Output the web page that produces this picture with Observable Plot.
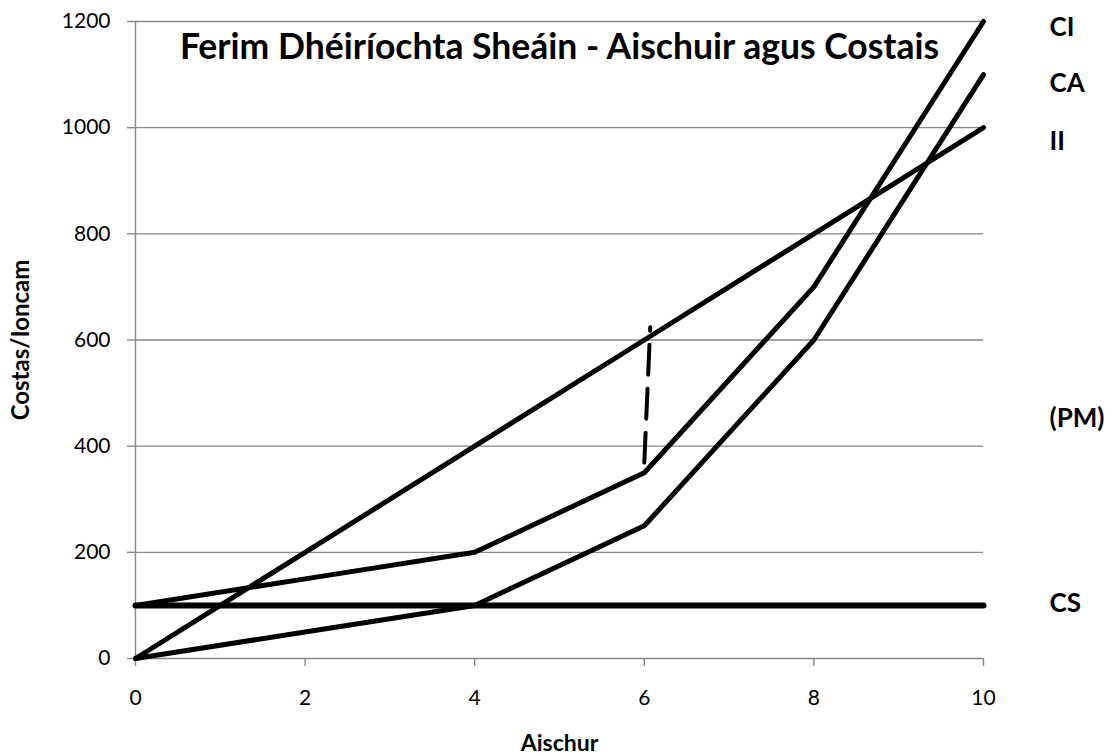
<!DOCTYPE html>
<html><head><meta charset="utf-8">
<script src="https://cdn.jsdelivr.net/npm/d3@7"></script>
<script src="https://cdn.jsdelivr.net/npm/@observablehq/plot@0.6"></script>
<style>body{margin:0;background:#fff;} svg{font-family:Lato,"Open Sans",sans-serif;}</style>
</head><body><div id="chart"></div>
<script>
const aischur = [0, 2, 4, 6, 8, 10];
const costasIomlan = [100, 150, 200, 350, 700, 1200];   // CI
const costasAthraitheacha = [0, 50, 100, 250, 600, 1100]; // CA
const ioncamIomlan = [0, 200, 400, 600, 800, 1000];     // II
const costasSeasta = [100, 100, 100, 100, 100, 100];    // CS
const pmX = [6.0, 6.07];
const pmY = [369, 624];
const labelNames = ["CI", "CA", "II", "(PM)", "CS"];
const labelY = [1188, 1083, 974, 452, 103];
const xTicks = [0, 2, 4, 6, 8, 10];
const yTicks = [0, 200, 400, 600, 800, 1000, 1200];

const series = [
  {name: "CI", values: costasIomlan},
  {name: "CA", values: costasAthraitheacha},
  {name: "II", values: ioncamIomlan},
  {name: "CS", values: costasSeasta}
];
const rows = series.flatMap(s => s.values.map((v, i) => ({series: s.name, x: aischur[i], y: v})));
const pm = pmX.map((x, i) => ({x, y: pmY[i]}));
const labels = labelNames.map((n, i) => ({name: n, y: labelY[i]}));

const chart = Plot.plot({
  width: 1116, height: 756,
  marginLeft: 135, marginRight: 133, marginTop: 21, marginBottom: 98,
  x: {domain: [0, 10]},
  y: {domain: [0, 1200]},
  style: {fontFamily: "Lato, 'Open Sans', sans-serif", fontSize: "21px", color: "#000"},
  marks: [
    Plot.ruleY(yTicks.filter(d => d > 0), {stroke: "#878787", strokeWidth: 1.4}),
    Plot.ruleY([0], {stroke: "#878787", strokeWidth: 1.4}),
    Plot.ruleX([0], {stroke: "#878787", strokeWidth: 1.4}),
    Plot.axisY({ticks: yTicks, tickFormat: d3.format("d"), tickSize: 8, tickPadding: 17, stroke: "#878787", strokeWidth: 1.4, label: null, fill: "#000", fontSize: 21}),
    Plot.axisX({ticks: xTicks, tickFormat: d3.format("d"), tickSize: 8, tickPadding: 24, stroke: "#878787", strokeWidth: 1.4, label: null, fill: "#000", fontSize: 21}),
    Plot.line(rows.filter(d => d.series !== "CS"), {x: "x", y: "y", z: "series", stroke: "#000", strokeWidth: 5, strokeLinejoin: "miter"}),
    Plot.line(rows.filter(d => d.series === "CS"), {x: "x", y: "y", stroke: "#000", strokeWidth: 6}),
    Plot.line(pm, {x: "x", y: "y", stroke: "#000", strokeWidth: 4, strokeDasharray: "30,14"}),
    Plot.text(labels, {x: 10, y: "y", text: "name", dx: 66, textAnchor: "start", lineAnchor: "middle", fontWeight: "bold", fontSize: 26}),
    Plot.text(["Ferim Dhéiríochta Sheáin - Aischuir agus Costais"], {frameAnchor: "top", textAnchor: "middle", lineAnchor: "middle", dy: 26, fontWeight: "bold", fontSize: 35.5}),
    Plot.text(["Aischur"], {frameAnchor: "bottom", textAnchor: "middle", lineAnchor: "middle", dy: 85, fontWeight: "bold", fontSize: 23}),
    Plot.text(["Costas/Ioncam"], {frameAnchor: "left", textAnchor: "middle", lineAnchor: "middle", dx: -114, rotate: -90, fontWeight: "bold", fontSize: 24})
  ]
});
document.getElementById("chart").append(chart);
</script>
</body></html>
